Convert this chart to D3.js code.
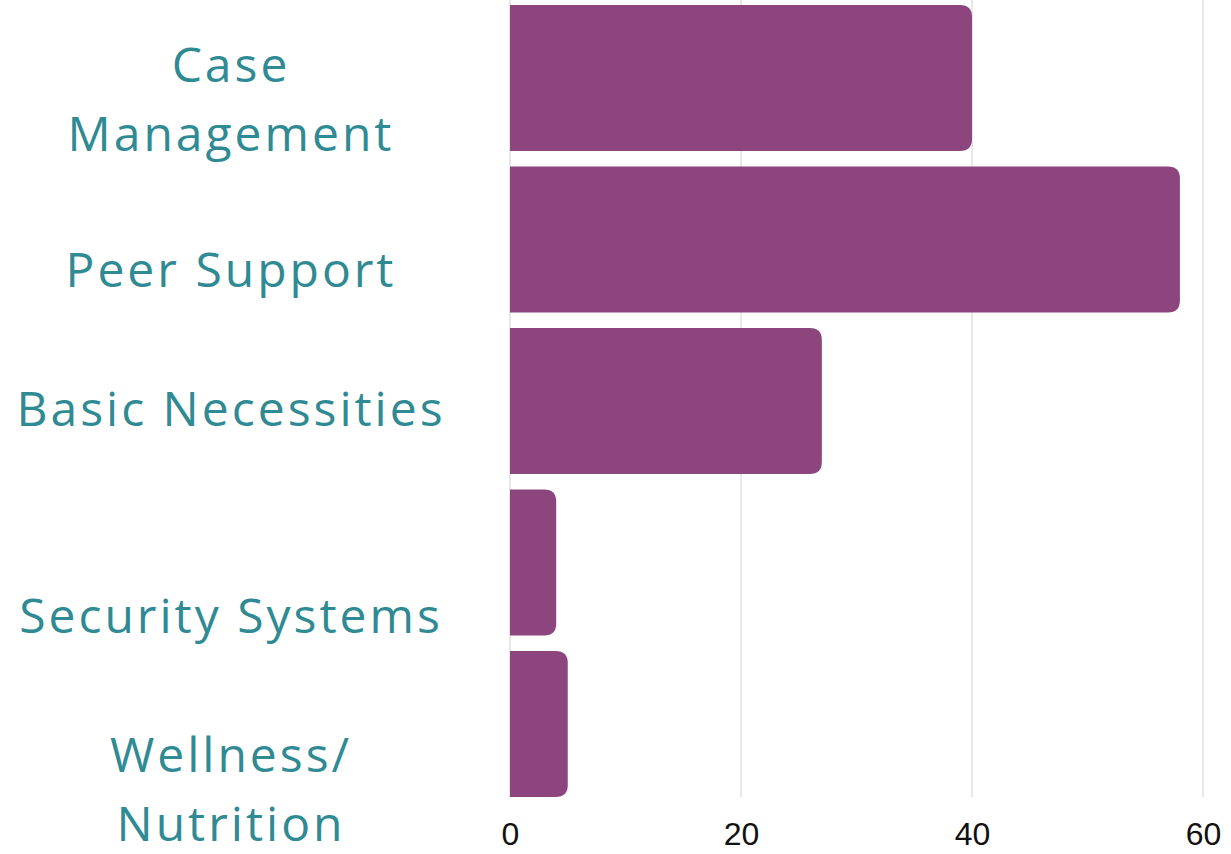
<!DOCTYPE html>
<html>
<head>
<meta charset="utf-8">
<script src="https://cdn.jsdelivr.net/npm/d3@7"></script>
<style>
body { margin: 0; background: #fff; }
</style>
</head>
<body>
<svg width="1231" height="854"></svg>
<script>
var categories = ["Case Management", "Peer Support", "Basic Necessities", "Security Systems", "Wellness/ Nutrition"];
var labelLines = [["Case", "Management"], ["Peer Support"], ["Basic Necessities"], ["Security Systems"], ["Wellness/", "Nutrition"]];
var values = [40, 58, 27, 4, 5];
var ticks = [0, 20, 40, 60];

// label placement in the original is not centered on the bars
var labelShift = [22, 31, 8, 54, 66];

var svg = d3.select("svg");
var xScale = d3.scaleLinear().domain([0, 60]).range([510, 1203]);
var yScale = d3.scaleBand().domain(categories).range([-2.8, 804.8]).paddingInner(0.097).paddingOuter(0.0485);

// gridlines
svg.append("g").attr("id", "gridG")
.selectAll("line")
.data(ticks)
.enter()
.append("line")
.attr("x1", function(d){return xScale(d)})
.attr("x2", function(d){return xScale(d)})
.attr("y1", 0)
.attr("y2", 797)
.style("stroke", "#d0d0d0")
.style("stroke-width", "1px")

// bars, square on the left, rounded on the right
var r = 12;
function barPath(d, i){
  var x0 = xScale(0), x1 = xScale(d), y0 = yScale(categories[i]), h = yScale.bandwidth();
  var rr = Math.min(r, (x1 - x0) / 2);
  return "M" + x0 + "," + y0 +
    "H" + (x1 - rr) +
    "Q" + x1 + "," + y0 + " " + x1 + "," + (y0 + rr) +
    "V" + (y0 + h - rr) +
    "Q" + x1 + "," + (y0 + h) + " " + (x1 - rr) + "," + (y0 + h) +
    "H" + x0 + "Z";
}
svg.append("g").attr("id", "barsG")
.selectAll("path")
.data(values)
.enter()
.append("path")
.attr("d", barPath)
.style("fill", "#8d457e")

// category labels
var lineH = 69;
svg.append("g").attr("id", "labelsG")
.selectAll("text")
.data(labelLines)
.enter()
.append("text")
.attr("text-anchor", "middle")
.attr("font-family", "Open Sans, sans-serif")
.attr("font-size", "48px")
.attr("letter-spacing", "3px")
.style("fill", "#2f8a94")
.each(function(lines, i){
  var cy = yScale(categories[i]) + yScale.bandwidth() / 2 + labelShift[i];
  var top = cy - (lines.length - 1) * lineH / 2;
  d3.select(this).selectAll("tspan")
  .data(lines)
  .enter()
  .append("tspan")
  .attr("x", 231)
  .attr("y", function(l, j){return top + j * lineH})
  .attr("dy", "0.35em")
  .text(function(l){return l});
})

// x axis labels
var xAxis = d3.axisBottom().scale(xScale).tickValues(ticks).tickSize(0).tickPadding(0);
var xAxisG = svg.append("g").attr("id", "xAxisG").attr("transform", "translate(0,822)").call(xAxis);
xAxisG.select(".domain").remove();
xAxisG.selectAll("text")
.attr("dy", "0.71em")
.attr("font-family", "Liberation Sans Narrow, Liberation Sans, sans-serif")
.attr("font-size", "32px")
.style("fill", "#111")
</script>
</body>
</html>
